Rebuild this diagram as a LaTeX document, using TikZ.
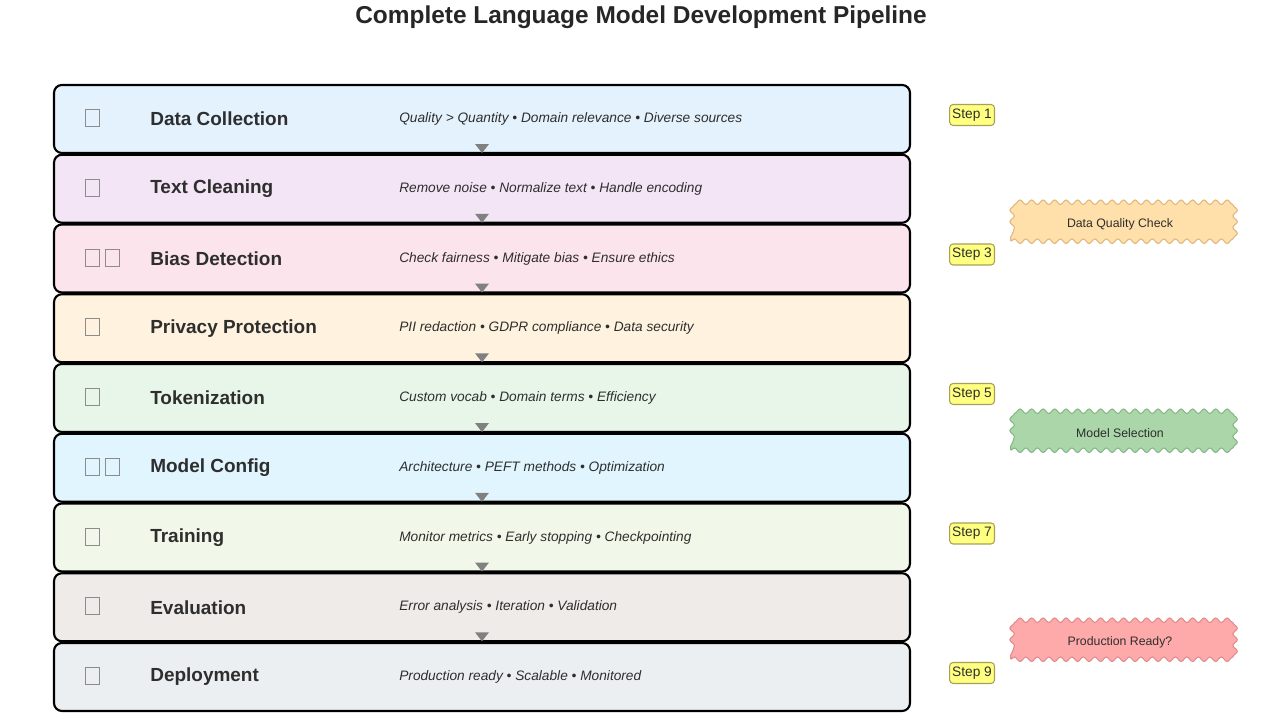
\documentclass[tikz,border=0pt]{standalone}
\usepackage{fontspec}
\setmainfont{Liberation Sans}
\usepackage{xcolor}
\usepackage{tikz}
\usetikzlibrary{positioning, decorations.pathmorphing}
\definecolor{textdark}{HTML}{2E2E2E}
\definecolor{icongray}{HTML}{8C8C8C}
\definecolor{tipgray}{HTML}{808080}
\definecolor{rowblue}{HTML}{E3F2FD}
\definecolor{rowpurple}{HTML}{F3E5F5}
\definecolor{rowpink}{HTML}{FCE4EC}
\definecolor{roworange}{HTML}{FFF3E0}
\definecolor{rowgreen}{HTML}{E8F5E9}
\definecolor{rowsky}{HTML}{E1F5FE}
\definecolor{rowlime}{HTML}{F1F8E9}
\definecolor{rowbrown}{HTML}{EFEBE9}
\definecolor{rowslate}{HTML}{ECEFF1}
\definecolor{stepyellow}{HTML}{FFFF80}
\definecolor{stepborder}{HTML}{A89F5A}
\definecolor{checkfill}{HTML}{FFDFAA}
\definecolor{checkline}{HTML}{E0B77E}
\definecolor{modelfill}{HTML}{AAD6AA}
\definecolor{modelline}{HTML}{86B886}
\definecolor{prodfill}{HTML}{FFAAAA}
\definecolor{prodline}{HTML}{E08C8C}

\begin{document}
\begin{tikzpicture}[
    every node/.style={font=\small, text=textdark},
    stage/.style={draw=black, line width=1.2pt, rounded corners=4.5pt,
        minimum width=17.12cm, minimum height=1.36cm},
    iconbox/.style={draw=icongray, line width=0.5pt, inner sep=0pt,
        minimum width=0.28cm, minimum height=0.34cm},
    steptag/.style={fill=stepyellow, draw=stepborder, line width=0.6pt,
        rounded corners=2pt, inner sep=1.5pt, minimum height=0.42cm,
        font=\fontsize{7.8}{9}\selectfont},
    wavybox/.style={decorate, decoration={snake, segment length=0.23cm, amplitude=0.045cm},
        line width=0.6pt, minimum width=4.37cm, minimum height=0.69cm, inner sep=0pt,
        font=\fontsize{7}{8}\selectfont}
]
\useasboundingbox (0,0) rectangle (25.68,14.56);

\node[font=\fontsize{13.9}{16}\selectfont\bfseries, text=black!85] (title) at (12.82,14.22)
    {Complete Language Model Development Pipeline};

% pipeline stages
\foreach \i/\name/\desc/\col/\ico in {
    1/Data Collection/{Quality > Quantity • Domain relevance • Diverse sources}/rowblue/1,
    2/Text Cleaning/{Remove noise • Normalize text • Handle encoding}/rowpurple/1,
    3/Bias Detection/{Check fairness • Mitigate bias • Ensure ethics}/rowpink/2,
    4/Privacy Protection/{PII redaction • GDPR compliance • Data security}/roworange/1,
    5/Tokenization/{Custom vocab • Domain terms • Efficiency}/rowgreen/1,
    6/Model Config/{Architecture • PEFT methods • Optimization}/rowsky/2,
    7/Training/{Monitor metrics • Early stopping • Checkpointing}/rowlime/1,
    8/Evaluation/{Error analysis • Iteration • Validation}/rowbrown/1,
    9/Deployment/{Production ready • Scalable • Monitored}/rowslate/1} {
    \node[stage, fill=\col] (r\i) at (9.64,{12.18-1.395*(\i-1)}) {};
    \node[iconbox] (ic\i) at ([xshift=0.78cm, yshift=0.02cm]r\i.west) {};
    \ifnum\ico=2
        \node[iconbox, right=0.12cm of ic\i] (icb\i) {};
    \fi
    \node[anchor=west, inner sep=0pt, font=\fontsize{10.8}{13}\selectfont\bfseries] (t\i)
        at ([xshift=1.94cm]r\i.west) {\name};
    \node[anchor=west, inner sep=0pt, font=\fontsize{7.8}{9}\selectfont\itshape] (d\i)
        at ([xshift=6.92cm]r\i.west) {\desc};
}

% flow markers between stages
\foreach \i in {1,...,8} {
    \fill[tipgray] ([xshift=-0.14cm, yshift=0.2cm]r\i.south) -- ([xshift=0.14cm, yshift=0.2cm]r\i.south)
        -- ([yshift=0.02cm]r\i.south) -- cycle;
}

% step tags
\foreach \i in {1,3,5,7,9} {
    \node[steptag] (s\i) at ([xshift=1.22cm, yshift=0.08cm]r\i.east) {Step \i};
}

% checkpoints
\node[wavybox, fill=checkfill, draw=checkline] (check) at (22.4,10.08) {Data Quality Check};
\node[wavybox, fill=modelfill, draw=modelline] (model) at (22.4,5.90) {Model Selection};
\node[wavybox, fill=prodfill, draw=prodline] (prod) at (22.4,1.72) {Production Ready?};
\end{tikzpicture}
\end{document}
